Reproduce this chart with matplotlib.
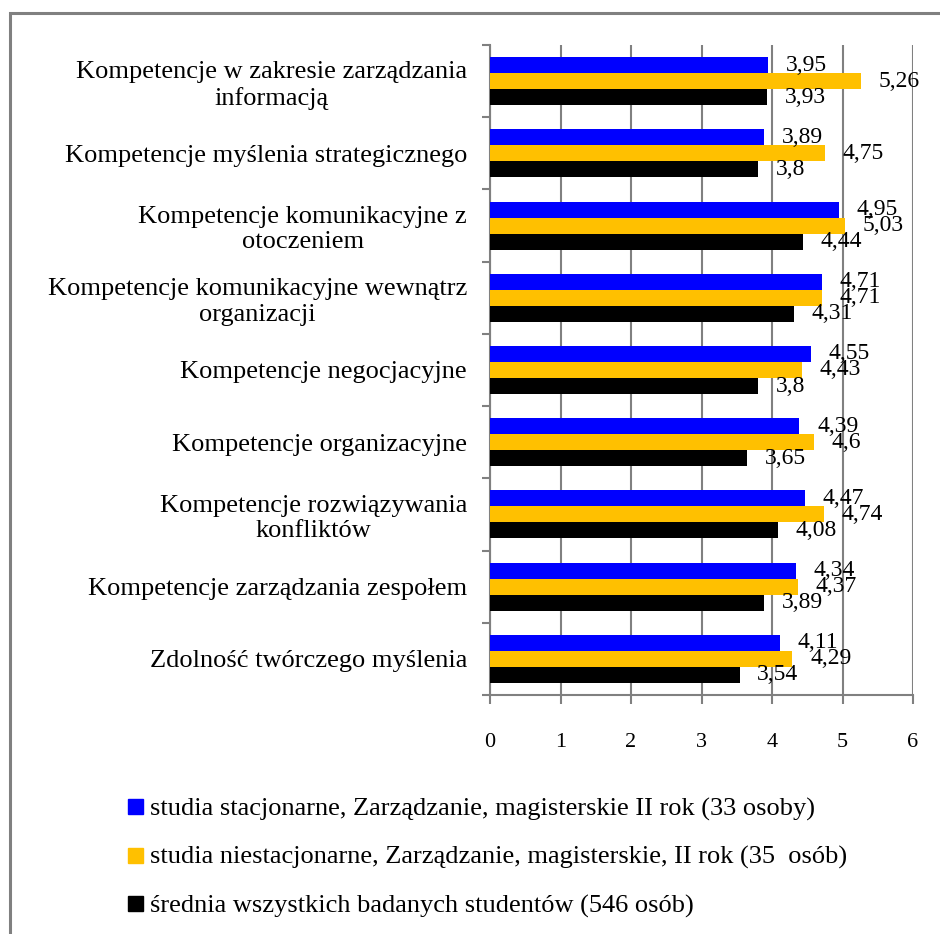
import numpy as np
import matplotlib.pyplot as plt
from matplotlib.patches import Rectangle
from matplotlib.lines import Line2D

plt.rcParams['font.family'] = ['Liberation Serif', 'DejaVu Serif']

categories = [
    "Kompetencje w zakresie zarządzania\ninformacją",
    "Kompetencje myślenia strategicznego",
    "Kompetencje komunikacyjne z\notoczeniem",
    "Kompetencje komunikacyjne wewnątrz\norganizacji",
    "Kompetencje negocjacyjne",
    "Kompetencje organizacyjne",
    "Kompetencje rozwiązywania\nkonfliktów",
    "Kompetencje zarządzania zespołem",
    "Zdolność twórczego myślenia",
]
stacjonarne = [3.95, 3.89, 4.95, 4.71, 4.55, 4.39, 4.47, 4.34, 4.11]
niestacjonarne = [5.26, 4.75, 5.03, 4.71, 4.43, 4.6, 4.74, 4.37, 4.29]
srednia = [3.93, 3.8, 4.44, 4.31, 3.8, 3.65, 4.08, 3.89, 3.54]

series_names = [
    "studia stacjonarne, Zarządzanie, magisterskie II rok (33 osoby)",
    "studia niestacjonarne, Zarządzanie, magisterskie, II rok (35  osób)",
    "średnia wszystkich badanych studentów (546 osób)",
]
colors = ["#0000FF", "#FFC000", "#000000"]
x_ticks = [0, 1, 2, 3, 4, 5, 6]

fig = plt.figure(figsize=(9.4, 9.34), dpi=100)
ax = fig.add_axes([490 / 940, 1 - 695 / 934, 423 / 940, 650 / 934])

# frame around the whole chart (right and bottom edges fall outside the picture)
fig.patches.append(Rectangle((9.5 / 940, -0.05), 1.0, 1 - 13 / 934 + 0.05,
                             transform=fig.transFigure, fill=False,
                             edgecolor="#808080", linewidth=2.2))

y = np.arange(len(categories))
h = 0.222
for k, (vals, col) in enumerate(zip([stacjonarne, niestacjonarne, srednia], colors)):
    pos = y + (k - 1) * h
    ax.barh(pos, vals, height=h, color=col, zorder=3)
    for p, v in zip(pos, vals):
        ax.text(v + 0.25, p, f"{v:g}".replace(".", ","), va="center", ha="left",
                fontsize=17, zorder=4)

ax.set_xlim(0, 6)
ax.set_ylim(len(categories) - 0.5, -0.5)
ax.set_xticks(x_ticks)
ax.set_xticklabels([str(t) for t in x_ticks], fontsize=16)
ax.set_yticks(y)
ax.set_yticklabels(categories, fontsize=19)
for lab in ax.get_yticklabels():
    lab.set_multialignment("center")
ax.set_yticks(np.arange(-0.5, len(categories)), minor=True)
ax.tick_params(axis="y", which="major", length=0, pad=16.5)
ax.tick_params(axis="y", which="minor", length=6, color="#808080", width=1.5)
ax.tick_params(axis="x", length=6.5, color="#808080", width=1.5, pad=21)

ax.grid(axis="x", color="#808080", linewidth=1.5, zorder=0)
for s in ["top", "right"]:
    ax.spines[s].set_visible(False)
for s in ["left", "bottom"]:
    ax.spines[s].set_color("#808080")
    ax.spines[s].set_linewidth(1.5)

handles = [Line2D([], [], marker="s", linestyle="none", markersize=10.8,
                  markerfacecolor=c, markeredgecolor=c) for c in colors]
fig.legend(handles, series_names, loc="upper left",
           bbox_to_anchor=(101 / 940, 1 - 773 / 934), frameon=False,
           fontsize=19, handlelength=0.8, handletextpad=0.15, labelspacing=0.94)

fig.savefig("out.png", dpi=100)
